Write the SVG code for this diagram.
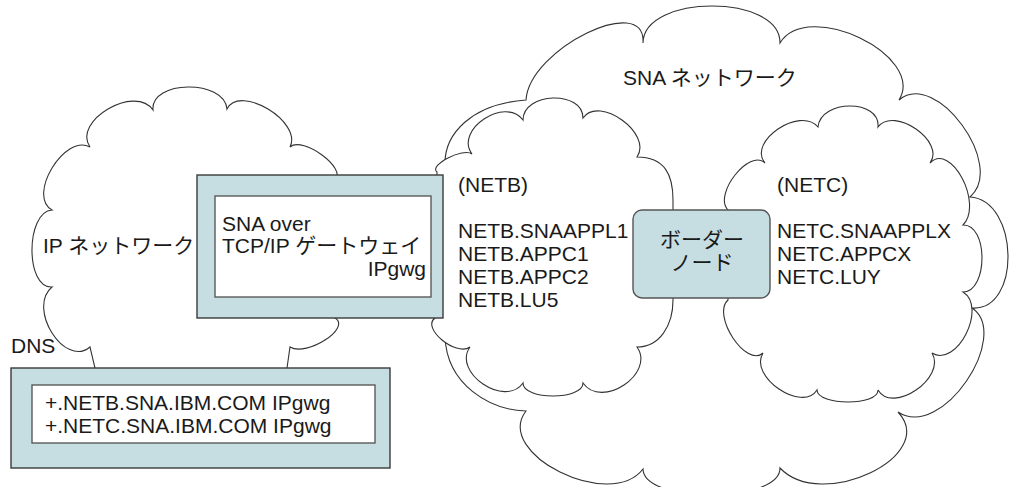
<svg xmlns="http://www.w3.org/2000/svg" width="1011" height="487" viewBox="0 0 1011 487">
<style>
.cloud{fill:#ffffff;stroke:#333333;stroke-width:1.1}
.outer{fill:#c6dee2;stroke:#3a3a3a;stroke-width:1.4}
.inner{fill:#ffffff;stroke:#5a5a5a;stroke-width:1.4}
.node{fill:#c6dee2;stroke:#555555;stroke-width:1.4}
text{font-family:"Liberation Sans","Noto Sans CJK JP",sans-serif;font-size:21px;fill:#1a1a1a}
</style>
<rect width="1011" height="487" fill="#ffffff"/>
<g id="sna-network">
<path class="cloud" d="M445,337 L445,163 C445,135 470,104 526,100 C529.3,48.7 646.3,-8.3 643,43 C643.7,-6.3 780.7,-6.3 780,43 C807.3,-1.7 926.3,55.3 899,100 C935.7,68.7 1006.7,165.7 970,197 C1019.3,200.3 1021.3,311.3 972,308 C1012,335 942,441 898,412 C939.3,456 821.3,512 780,468 C780.7,503.3 643.7,504.3 643,469 C610.3,511.7 493.3,453.7 526,411 C490,410 447,385 445,337 Z"/>
<text x="623" y="85">SNA ネットワーク</text>
</g>
<g id="netb">
<path class="cloud" d="M435,318 L437,172 C428.3,165.3 463.3,147.3 472,154 C454,130 505,96 523,120 C523,92 583,90 583,118 C599,94.7 653,133.7 637,157 C665,157 673,175 673,200 L673,300 C673,325 660,347 637,347 C655.7,373.7 601.7,409.7 583,383 C583,400.3 523,400.3 523,383 C505,408.3 452,372.3 470,347 C456,357 421,328 435,318 Z"/>
<text x="458" y="192">(NETB)</text>
<text x="458" y="238">NETB.SNAAPPL1</text>
<text x="458" y="261">NETB.APPC1</text>
<text x="458" y="284">NETB.APPC2</text>
<text x="458" y="307">NETB.LU5</text>
</g>
<g id="netc">
<path class="cloud" d="M763,353 C746.3,368.3 711.3,315.3 728,300 L728,210 C712.7,194.7 749.7,147.7 765,163 C747,141.7 800,105.7 818,127 C820.7,99 880.7,99 878,127 C894,105.7 946,141.7 930,163 C950.7,141.7 983.7,203.7 963,225 C988.3,224.3 988.3,291.3 963,292 C987.7,307.3 956.7,368.3 932,353 C946.7,377.7 892.7,414.7 878,390 C878.7,406 817.7,406 817,390 C802.3,413.3 748.3,376.3 763,353 Z"/>
<text x="777" y="192">(NETC)</text>
<text x="777" y="238">NETC.SNAAPPLX</text>
<text x="777" y="261">NETC.APPCX</text>
<text x="777" y="284">NETC.LUY</text>
</g>
<g id="ip-network">
<path class="cloud" d="M90,147 C72,121 135,84 153,110 C150.3,80 224.3,79 227,109 C239.7,83.7 302.7,121.7 290,147 C302.7,135.7 347.7,168.7 335,180 L335,318 C351.7,328 306.7,357 290,347 L287,368 L287,420 L95,420 L95,368 L90,347 C64.7,368.3 26.7,308.3 52,287 C25.3,289 25.3,212 52,210 C26.7,196 64.7,133 90,147 Z"/>
<text x="43" y="253">IP ネットワーク</text>
</g>
<g id="gateway">
<rect class="outer" x="197" y="175" width="246" height="143"/>
<rect class="inner" x="215" y="196" width="216" height="101"/>
<text x="222" y="231">SNA over</text>
<text x="222" y="253">TCP/IP ゲートウェイ</text>
<text x="426" y="276" text-anchor="end">IPgwg</text>
</g>
<g id="dns">
<text x="11" y="353">DNS</text>
<rect class="outer" x="11" y="368" width="379" height="100"/>
<rect class="inner" x="32" y="385" width="343" height="58"/>
<text x="45" y="410">+.NETB.SNA.IBM.COM IPgwg</text>
<text x="45" y="433">+.NETC.SNA.IBM.COM IPgwg</text>
</g>
<g id="border-node">
<rect class="node" x="633" y="210" width="137" height="88" rx="9" ry="9"/>
<text x="702" y="247" text-anchor="middle">ボーダー</text>
<text x="702" y="270" text-anchor="middle">ノード</text>
</g>
<g id="connectors"></g>
</svg>
